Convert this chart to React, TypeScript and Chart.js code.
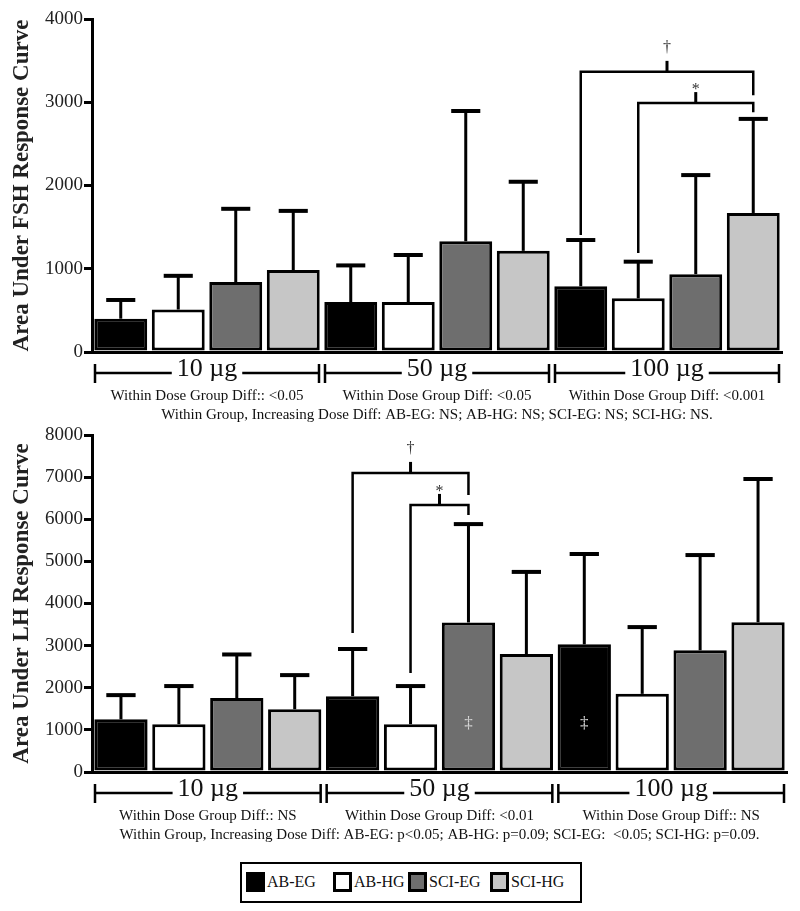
import React, { useEffect, useRef } from 'react';
import { Chart, registerables } from 'chart.js';

Chart.register(...registerables);

// ---------- DATA ----------
const groups = ['AB-EG', 'AB-HG', 'SCI-EG', 'SCI-HG'];
const doses = ['10 µg', '50 µg', '100 µg'];
const groupColors = ['#000000', '#ffffff', '#6e6e6e', '#c6c6c6'];

// FSH: mean area per dose (10, 50, 100 µg) for each group
const fshABEG = [400, 600, 790];
const fshABHG = [510, 600, 645];
const fshSCIEG = [840, 1330, 935];
const fshSCIHG = [985, 1215, 1670];
// FSH: top of the SD bar
const fshABEGErr = [625, 1040, 1345];
const fshABHGErr = [915, 1165, 1085];
const fshSCIEGErr = [1720, 2895, 2125];
const fshSCIHGErr = [1695, 2045, 2800];

// LH: mean area per dose for each group
const lhABEG = [1250, 1800, 3030];
const lhABHG = [1135, 1135, 1855];
const lhSCIEG = [1755, 3550, 2890];
const lhSCIHG = [1490, 2800, 3555];
// LH: top of the SD bar
const lhABEGErr = [1825, 2920, 5175];
const lhABHGErr = [2040, 2040, 3440];
const lhSCIEGErr = [2790, 5885, 5150];
const lhSCIHGErr = [2300, 4750, 6955];

const fshTicks = [0, 1000, 2000, 3000, 4000];
const lhTicks = [0, 1000, 2000, 3000, 4000, 5000, 6000, 7000, 8000];

const fshDoseDiff = ['Within Dose Group Diff:: <0.05', 'Within Dose Group Diff: <0.05', 'Within Dose Group Diff: <0.001'];
const lhDoseDiff = ['Within Dose Group Diff:: NS', 'Within Dose Group Diff: <0.01', 'Within Dose Group Diff:: NS'];
const fshTrend = 'Within Group, Increasing Dose Diff: AB-EG: NS; AB-HG: NS; SCI-EG: NS; SCI-HG: NS.';
const lhTrend = 'Within Group, Increasing Dose Diff: AB-EG: p<0.05; AB-HG: p=0.09; SCI-EG:  <0.05; SCI-HG: p=0.09.';

// significance brackets: dose index, from/to group index, bracket level and leg ends (data units)
const fshBrackets = [
  { dose: 2, from: 0, to: 3, level: 3365, fromEnd: 1405, toEnd: 3085, mark: '†' },
  { dose: 2, from: 1, to: 3, level: 2990, fromEnd: 1190, toEnd: 2880, mark: '*' },
];
const lhBrackets = [
  { dose: 1, from: 0, to: 2, level: 7100, fromEnd: 3300, toEnd: 6575, mark: '†' },
  { dose: 1, from: 1, to: 2, level: 6340, fromEnd: 2350, toEnd: 6100, mark: '*' },
];
const lhInnerMarks = [
  { dose: 1, group: 2, value: 1140, mark: '‡' },
  { dose: 2, group: 0, value: 1140, mark: '‡' },
];

// ---------- STYLE ----------
const FONT = "'Liberation Serif', 'Times New Roman', Times, serif";
const markOffset: Record<string, number> = { '†': 20, '*': 9 };

function annotPlugin(cfg: any) {
  return {
    id: 'annot',
    afterDraw(chart: any) {
      const ctx = chart.ctx as CanvasRenderingContext2D;
      const y = chart.scales.y;
      const x = chart.scales.x;
      const area = chart.chartArea;
      ctx.save();
      ctx.strokeStyle = '#000';
      ctx.lineCap = 'butt';
      // error bars
      chart.data.datasets.forEach((_ds: any, di: number) => {
        const meta = chart.getDatasetMeta(di);
        const errs = cfg.errors[di];
        meta.data.forEach((bar: any, i: number) => {
          const top = y.getPixelForValue(errs[i]);
          const capW = bar.width * 0.55;
          ctx.lineWidth = 3;
          ctx.beginPath();
          ctx.moveTo(bar.x, bar.y);
          ctx.lineTo(bar.x, top);
          ctx.stroke();
          ctx.lineWidth = 4;
          ctx.beginPath();
          ctx.moveTo(bar.x - capW / 2, top);
          ctx.lineTo(bar.x + capW / 2, top);
          ctx.stroke();
        });
      });
      // brackets
      cfg.brackets.forEach((b: any) => {
        const x1 = chart.getDatasetMeta(b.from).data[b.dose].x;
        const x2 = chart.getDatasetMeta(b.to).data[b.dose].x;
        const yl = y.getPixelForValue(b.level);
        ctx.lineWidth = 2.5;
        ctx.beginPath();
        ctx.moveTo(x1, y.getPixelForValue(b.fromEnd));
        ctx.lineTo(x1, yl);
        ctx.lineTo(x2, yl);
        ctx.lineTo(x2, y.getPixelForValue(b.toEnd));
        ctx.stroke();
        const xm = (x1 + x2) / 2;
        ctx.lineWidth = 3;
        ctx.beginPath();
        ctx.moveTo(xm, yl);
        ctx.lineTo(xm, yl - 11);
        ctx.stroke();
        ctx.font = `16px ${FONT}`;
        ctx.fillStyle = '#333';
        ctx.textAlign = 'center';
        ctx.textBaseline = 'alphabetic';
        ctx.fillText(b.mark, xm, yl - (markOffset[b.mark] || 14));
      });
      // marks inside bars
      (cfg.inner || []).forEach((m: any) => {
        const bar = chart.getDatasetMeta(m.group).data[m.dose];
        ctx.font = `17px ${FONT}`;
        ctx.fillStyle = '#d9d9d9';
        ctx.textAlign = 'center';
        ctx.textBaseline = 'middle';
        ctx.fillText(m.mark, bar.x, y.getPixelForValue(m.value));
      });
      // dose group brackets below axis
      const catW = (area.right - area.left) / cfg.doses.length;
      const yb = area.bottom + 21;
      ctx.fillStyle = '#111';
      cfg.doses.forEach((label: string, k: number) => {
        const cx = x.getPixelForValue(k);
        const l = cx - catW / 2 + 3;
        const r = cx + catW / 2 - 3;
        ctx.font = `26px ${FONT}`;
        const tw = ctx.measureText(label).width;
        ctx.lineWidth = 2.5;
        ctx.beginPath();
        ctx.moveTo(l, yb - 9);
        ctx.lineTo(l, yb + 10);
        ctx.moveTo(r, yb - 9);
        ctx.lineTo(r, yb + 10);
        ctx.moveTo(l, yb);
        ctx.lineTo(cx - tw / 2 - 5, yb);
        ctx.moveTo(cx + tw / 2 + 5, yb);
        ctx.lineTo(r, yb);
        ctx.stroke();
        ctx.textAlign = 'center';
        ctx.textBaseline = 'alphabetic';
        ctx.fillText(label, cx, yb + 3);
        ctx.font = `15px ${FONT}`;
        ctx.fillText(cfg.doseDiff[k], cx, area.bottom + 48);
      });
      ctx.font = `15px ${FONT}`;
      ctx.textAlign = 'center';
      ctx.fillText(cfg.trend, (area.left + area.right) / 2, area.bottom + 67);
      ctx.restore();
    },
  };
}

function BarChart(props: { cfg: any; top: number; height: number; padRight: number; padTop: number }) {
  const { cfg, top, height, padRight, padTop } = props;
  const ref = useRef<HTMLCanvasElement>(null);
  useEffect(() => {
    const chart = new Chart(ref.current as HTMLCanvasElement, {
      type: 'bar',
      data: {
        labels: doses,
        datasets: groups.map((g, i) => ({
          label: g,
          data: cfg.values[i],
          backgroundColor: groupColors[i],
          borderColor: '#000',
          borderWidth: 3,
          borderSkipped: false,
          barPercentage: 0.92,
          categoryPercentage: 1,
        })),
      },
      options: {
        responsive: false,
        animation: false,
        layout: { padding: { left: 0, right: padRight, top: padTop, bottom: height - 352 } },
        plugins: { legend: { display: false }, tooltip: { enabled: false } },
        scales: {
          x: {
            type: 'category',
            ticks: { display: false },
            grid: { display: true, drawOnChartArea: false, drawTicks: false },
            border: { display: true, width: 3, color: '#000' },
            afterFit: (s: any) => { s.height = 0; },
          },
          y: {
            min: 0,
            max: cfg.ticks[cfg.ticks.length - 1],
            afterBuildTicks: (s: any) => { s.ticks = cfg.ticks.map((v: number) => ({ value: v })); },
            ticks: { color: '#222', font: { family: FONT, size: 19 }, padding: 1, callback: (v: any) => String(v) },
            grid: { display: true, drawOnChartArea: false, drawTicks: true, tickLength: 8, tickWidth: 3, tickColor: '#000', lineWidth: 3, color: '#000' },
            border: { display: true, width: 3, color: '#000' },
            title: { display: true, text: cfg.title, color: '#222', font: { family: FONT, size: 23, weight: 'bold' }, padding: { top: 8, bottom: 0 } },
            afterFit: (s: any) => { s.width = 92; },
          },
        },
      },
      plugins: [annotPlugin(cfg)],
    } as any);
    return () => chart.destroy();
  }, []);
  return (
    <canvas ref={ref} width={800} height={height} style={{ position: 'absolute', left: 0, top, width: 800, height }} />
  );
}

const legendLefts = [246, 333, 408, 490];

export default function App() {
  const fshCfg = {
    title: 'Area Under FSH Response Curve',
    values: [fshABEG, fshABHG, fshSCIEG, fshSCIHG],
    errors: [fshABEGErr, fshABHGErr, fshSCIEGErr, fshSCIHGErr],
    ticks: fshTicks,
    brackets: fshBrackets,
    inner: [],
    doses,
    doseDiff: fshDoseDiff,
    trend: fshTrend,
  };
  const lhCfg = {
    title: 'Area Under LH Response Curve',
    values: [lhABEG, lhABHG, lhSCIEG, lhSCIHG],
    errors: [lhABEGErr, lhABHGErr, lhSCIEGErr, lhSCIHGErr],
    ticks: lhTicks,
    brackets: lhBrackets,
    inner: lhInnerMarks,
    doses,
    doseDiff: lhDoseDiff,
    trend: lhTrend,
  };
  return (
    <div style={{ position: 'absolute', left: 0, top: 0, width: 800, height: 911, background: '#fff', overflow: 'hidden' }}>
      <BarChart cfg={fshCfg} top={0} height={424} padRight={18} padTop={19} />
      <BarChart cfg={lhCfg} top={420} height={430} padRight={13} padTop={15} />
      <div style={{ position: 'absolute', left: 240, top: 862, width: 342, height: 41, border: '2px solid #000', boxSizing: 'border-box' }}>
        {groups.map((g, i) => (
          <div key={g} style={{ position: 'absolute', left: legendLefts[i] - 242, top: 8, display: 'flex', alignItems: 'center', fontFamily: FONT, fontSize: 16, color: '#111', lineHeight: '20px' }}>
            <span style={{ display: 'inline-block', width: 19, height: 20, background: groupColors[i], border: '3px solid #000', boxSizing: 'border-box', marginRight: 2 }} />
            <span>{g}</span>
          </div>
        ))}
      </div>
    </div>
  );
}
